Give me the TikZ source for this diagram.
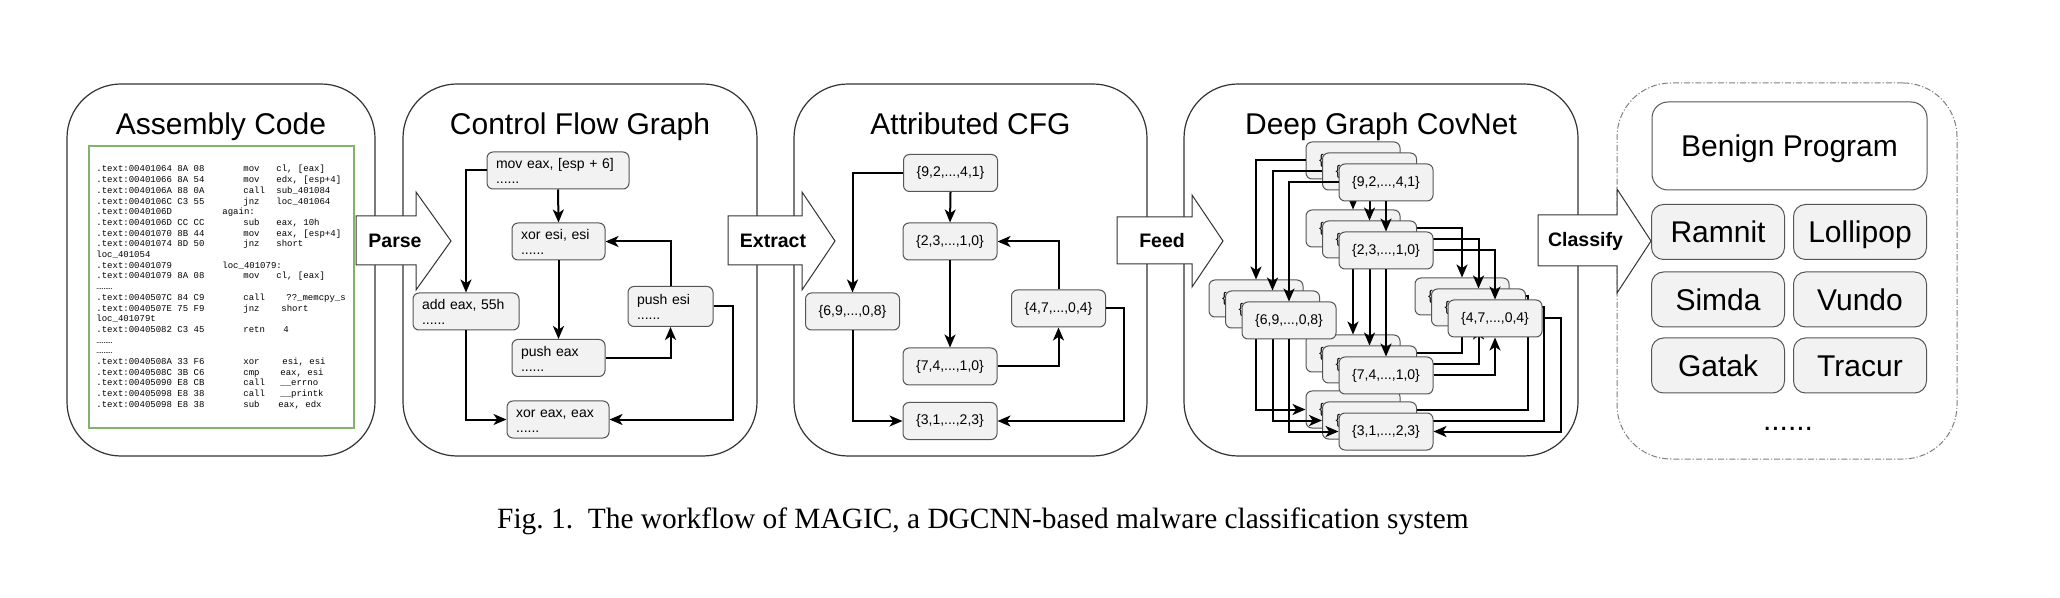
\documentclass[tikz,border=0pt]{standalone}
\usepackage{fontspec}
\setmainfont{Liberation Sans}
\newfontfamily\capfont{Liberation Serif}
\newfontfamily\codefont{Liberation Mono}
\usetikzlibrary{arrows.meta,calc}
\definecolor{boxfill}{HTML}{F2F2F2}
\definecolor{boxline}{HTML}{555555}
\definecolor{codegreen}{HTML}{82B366}
\definecolor{panelline}{HTML}{333333}
\newcommand\cfgtext[1]{\rule{0pt}{8.35pt}#1\\......\rule[-2.5pt]{0pt}{2.5pt}}
\newcommand\asmln[3]{\makebox[73.5pt][l]{#1}\makebox[16.5pt][l]{#2}#3}
\newcommand\asmlw[4]{\makebox[73.5pt][l]{#1}\makebox[#3][l]{#2}#4}
\tikzset{
  panel/.style={draw=panelline, line width=0.6pt, rounded corners=27pt, inner sep=0pt},
  dpanel/.style={draw=gray, line width=0.5pt, rounded corners=27pt, inner sep=0pt,
    dash pattern=on 3pt off 1pt on 0.6pt off 1pt},
  ptitle/.style={anchor=base, font=\fontsize{15}{18}\selectfont, inner sep=0pt},
  cfgbox/.style={draw=boxline, fill=boxfill, line width=0.5pt, rounded corners=3pt,
    align=left, inner xsep=4.5pt, inner ysep=0pt, font=\fontsize{7}{7.65}\selectfont},
  attbox/.style={draw=boxline, fill=boxfill, line width=0.5pt, rounded corners=3pt,
    minimum width=47pt, minimum height=18.5pt, inner sep=0pt, font=\fontsize{7}{8}\selectfont},
  clsbox/.style={draw=boxline, fill=boxfill, line width=0.5pt, rounded corners=6pt,
    minimum width=66.5pt, minimum height=27.5pt, inner sep=0pt, text height=10.8pt, text depth=0pt,
    font=\fontsize{15}{18}\selectfont},
  edge/.style={line width=1pt, -{Stealth[length=6.5pt,width=5.5pt,inset=1.8pt]}},
  blockarrow/.style={draw=panelline, fill=white, line width=0.5pt, line join=miter},
  blocklabel/.style={font=\bfseries\fontsize{9.75}{11}\selectfont, inner sep=0pt},
}
\begin{document}
\begin{tikzpicture}[x=0.5pt, y=-0.5pt]
\fill[white] (0,0) rectangle (2060,598);
\useasboundingbox (0,0) rectangle (2060,598);

% panels
\node[panel, minimum width=154pt, minimum height=186pt] (p1) at (221,270) {};
\node[panel, minimum width=177pt, minimum height=186pt] (p2) at (580,270) {};
\node[panel, minimum width=176.5pt, minimum height=186pt] (p3) at (970.5,270) {};
\node[panel, minimum width=197pt, minimum height=186pt] (p4) at (1381,270) {};
\node[dpanel, minimum width=170pt, minimum height=188pt] (p5) at (1787,271) {};

\node[ptitle] (t1) at (221,135) {Assembly Code};
\node[ptitle] (t2) at (580,135) {Control Flow Graph};
\node[ptitle] (t3) at (970.5,135) {Attributed CFG};
\node[ptitle] (t4) at (1381,135) {Deep Graph CovNet};

% assembly code
\node[draw=codegreen, line width=1pt, fill=white, minimum width=132.5pt, minimum height=141pt, inner sep=0pt] (codebox) at (221.5,287) {};
\node[anchor=north west, inner sep=0pt, align=left, font=\codefont\fontsize{4.5}{5.35}\selectfont] (code) at (96,165) {%
\asmln{.text:00401064 8A 08}{mov}{cl, [eax]}\\
\asmln{.text:00401066 8A 54}{mov}{edx, [esp+4]}\\
\asmln{.text:0040106A 88 0A}{call}{sub\_401084}\\
\asmln{.text:0040106C C3 55}{jnz}{loc\_401064}\\
\makebox[63pt][l]{.text:0040106D}again:\\
\asmln{.text:0040106D CC CC}{sub}{eax, 10h}\\
\asmln{.text:00401070 8B 44}{mov}{eax, [esp+4]}\\
\asmln{.text:00401074 8D 50}{jnz}{short}\\
loc\_401054\\
\makebox[63pt][l]{.text:00401079}loc\_401079:\\
\asmln{.text:00401079 8A 08}{mov}{cl, [eax]}\\
………\\
\asmlw{.text:0040507C 84 C9}{call}{21.5pt}{??\_memcpy\_s}\\
\asmlw{.text:0040507E 75 F9}{jnz}{19pt}{short}\\
loc\_401079t\\
\asmlw{.text:00405082 C3 45}{retn}{20pt}{4}\\
………\\
………\\
\asmlw{.text:0040508A 33 F6}{xor}{19.5pt}{esi, esi}\\
\asmlw{.text:0040508C 3B C6}{cmp}{18.5pt}{eax, esi}\\
\asmlw{.text:00405090 E8 CB}{call}{18.5pt}{\_\_errno}\\
\asmlw{.text:00405098 E8 38}{call}{18.5pt}{\_\_printk}\\
\asmlw{.text:00405098 E8 38}{sub}{17.5pt}{eax, edx}};

% control flow graph
\node[cfgbox, text width=62pt] (m1) at (558,170.5) {\cfgtext{mov eax, [esp + 6]}};
\node[cfgbox, text width=37.5pt] (m2) at (558.5,241.5) {\cfgtext{xor esi, esi}};
\node[cfgbox, text width=44pt] (m3) at (466,311.5) {\cfgtext{add eax, 55h}};
\node[cfgbox, text width=33.5pt, minimum height=20pt] (m4) at (670.5,306.5) {\cfgtext{push esi}};
\node[cfgbox, text width=37.5pt] (m5) at (558.5,358) {\cfgtext{push eax}};
\node[cfgbox, text width=42pt] (m6) at (558,419.5) {\cfgtext{xor eax, eax}};
\draw[edge] (m1.west) -| (m3.north);
\draw[edge] (m1.south) -- (m2.north);
\draw[edge] (m2.south) -- (m5.north);
\draw[edge] (m5.east) -| (m4.south);
\draw[edge] (m4.north) |- (m2.east);
\draw[edge] (m4.east) -- ++(19,0) |- (m6.east);
\draw[edge] (m3.south) |- (m6.west);

% attributed CFG
\node[attbox] (a1) at (950.5,173) {\{9,2,...,4,1\}};
\node[attbox] (a2) at (950,241.5) {\{2,3,...,1,0\}};
\node[attbox] (a3) at (852.5,311.5) {\{6,9,...,0,8\}};
\node[attbox] (a4) at (1058.5,308.5) {\{4,7,...,0,4\}};
\node[attbox] (a5) at (950,366.5) {\{7,4,...,1,0\}};
\node[attbox] (a6) at (950,421) {\{3,1,...,2,3\}};
\draw[edge] (a1.west) -| (a3.north);
\draw[edge] (a1.south) -- (a2.north);
\draw[edge] (a2.south) -- (a5.north);
\draw[edge] (a5.east) -| (a4.south);
\draw[edge] (a4.north) |- (a2.east);
\draw[edge] (a4.east) -- ++(18,0) |- (a6.east);
\draw[edge] (a3.south) |- (a6.west);

% deep graph covnet (three stacked layers)
\foreach \k in {0,1,2}{
  \node[attbox] (A\k) at (1353+16.5*\k,160.5+11*\k) {\{9,2,...,4,1\}};
  \node[attbox] (B\k) at (1353+16.5*\k,228.5+11*\k) {\{2,3,...,1,0\}};
  \node[attbox] (C\k) at (1256+16.5*\k,298.5+11*\k) {\{6,9,...,0,8\}};
  \node[attbox] (D\k) at (1462+16.5*\k,296.5+11*\k) {\{4,7,...,0,4\}};
  \node[attbox] (E\k) at (1353+16.5*\k,353.5+11*\k) {\{7,4,...,1,0\}};
  \node[attbox] (F\k) at (1353+16.5*\k,409.5+11*\k) {\{3,1,...,2,3\}};
  \draw[edge] (A\k.west) -| (C\k.north);
  \draw[edge] (A\k.south) -- (B\k.north);
  \draw[edge] (B\k.east) -| (D\k.north);
  \draw[edge] (B\k.south) -- (E\k.north);
  \draw[edge] (E\k.east) -| (D\k.south);
  \draw[edge] (D\k.east) -- ++(18,0) |- (F\k.east);
  \draw[edge] (C\k.south) |- (F\k.west);
}

% classes
\node[draw=boxline, fill=white, line width=0.5pt, rounded corners=8pt, minimum width=137.5pt, minimum height=44pt, inner sep=0pt, text height=10.8pt, text depth=0pt, font=\fontsize{15}{18}\selectfont] (benign) at (1789.5,146) {Benign Program};
\node[clsbox] (c1) at (1718,232) {Ramnit};
\node[clsbox] (c2) at (1860,232) {Lollipop};
\node[clsbox] (c3) at (1718,299.5) {Simda};
\node[clsbox] (c4) at (1860,299.5) {Vundo};
\node[clsbox] (c5) at (1718,365.5) {Gatak};
\node[clsbox] (c6) at (1860,365.5) {Tracur};
\node[anchor=base, inner sep=0pt, font=\fontsize{15}{18}\selectfont] (more) at (1788,430) {......};

% block arrows
\draw[blockarrow] (356,216) -- (416,216) -- (416,192) -- (451,241) -- (416,290) -- (416,265) -- (356,265) -- cycle;
\node[blocklabel] (parse) at (395,241) {Parse};
\draw[blockarrow] (728,216) -- (802,216) -- (802,192) -- (835,241) -- (802,290) -- (802,265) -- (728,265) -- cycle;
\node[blocklabel] (extract) at (773,241) {Extract};
\draw[blockarrow] (1117,217) -- (1192,217) -- (1192,195) -- (1223,241) -- (1192,287) -- (1192,264) -- (1117,264) -- cycle;
\node[blocklabel] (feed) at (1162,241) {Feed};
\draw[blockarrow] (1538,215) -- (1617,215) -- (1617,189) -- (1651,241) -- (1617,293) -- (1617,266) -- (1538,266) -- cycle;
\node[blocklabel] (classify) at (1585.5,241) {Classify};

% caption
\node[anchor=base, inner sep=0pt, font=\capfont\fontsize{14.7}{17}\selectfont] (cap) at (983,528) {Fig.~1.\ \ The workflow of MAGIC, a DGCNN-based malware classification system};
\end{tikzpicture}
\end{document}
